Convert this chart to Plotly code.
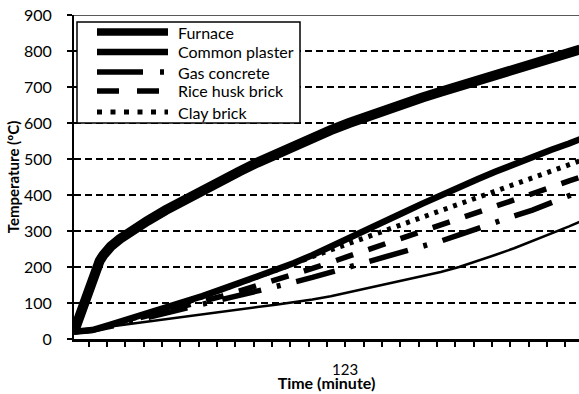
import plotly.graph_objects as go

# ---- data (time in minutes, temperature in degC) ----
furnace_time = [0, 1, 2, 3, 4, 5, 6, 7, 8, 9, 10, 12.5, 15, 20, 25, 30, 35, 40, 45, 50, 55, 60,
                65, 70, 75, 80, 85, 90, 95, 100, 105, 110, 115, 120, 125, 130, 135, 138]
furnace = [20, 50, 85, 118, 148, 175, 198, 217, 233, 246, 257, 278, 296, 328, 358, 386, 413,
           439, 465, 490, 514, 537, 559, 580, 600, 619, 637, 654, 671, 687, 703, 719, 735, 750,
           765, 780, 795, 804]

time = [0, 5, 10, 15, 20, 25, 30, 35, 40, 45, 50, 55, 60, 65, 70, 75, 80, 85, 90, 95, 100,
        105, 110, 115, 120, 125, 130, 135, 138]
common_plaster = [20, 25, 40, 55, 70, 85, 101, 119, 137, 155, 174, 192, 211, 233, 256, 279, 303,
                  327, 352, 376, 400, 422, 444, 465, 486, 506, 525, 543, 555]
gas_concrete = [20, 24, 35, 47, 59, 71, 83, 95, 107, 121, 133, 145, 158, 171, 185, 199, 213,
                228, 243, 256, 272, 289, 308, 326, 342, 358, 377, 397, 410]
rice_husk_brick = [20, 25, 38, 51, 64, 77, 90, 104, 118, 133, 148, 164, 180, 196, 213, 230, 247,
                   265, 282, 300, 317, 334, 352, 369, 387, 404, 421, 439, 449]
clay_brick = [20, 25, 39, 53, 68, 83, 99, 117, 135, 153, 172, 190, 209, 229, 247, 265, 283,
              301, 319, 337, 356, 374, 393, 411, 429, 447, 465, 483, 495]
unlabelled = [18, 28, 35, 42, 49, 56, 62, 70, 76, 82, 89, 95, 102, 110, 119, 130, 140, 152, 162,
              174, 186, 200, 216, 234, 252, 272, 291, 313, 326]

series_names = ["Furnace", "Common plaster", "Gas concrete", "Rice husk brick", "Clay brick"]
y_ticks = [0, 100, 200, 300, 400, 500, 600, 700, 800, 900]
x_title = "Time (minute)"
y_title = "Temperature (ºC)"
stray_label = "123"
stray_label_time = 74

FONT = "Lato, 'Open Sans', sans-serif"

styles = {
    "Furnace": dict(color="black", width=10),
    "Common plaster": dict(color="black", width=6.5),
    "Gas concrete": dict(color="black", width=5.5, dash="40px,16px,4px,16px"),
    "Rice husk brick": dict(color="black", width=5.5, dash="18px,16px"),
    "Clay brick": dict(color="black", width=5, dash="4px,6px"),
}
legend_styles = {
    "Furnace": dict(color="black", width=7.5),
    "Common plaster": dict(color="black", width=6.5),
    "Gas concrete": dict(color="black", width=5.5, dash="46px,17px,4px,30px"),
    "Rice husk brick": dict(color="black", width=5.5, dash="22px,18px"),
    "Clay brick": dict(color="black", width=5, dash="5px,8.5px"),
}

fig = go.Figure()
fig.add_trace(go.Scatter(x=time, y=unlabelled, mode="lines", showlegend=False,
                         line=dict(color="black", width=2.5)))
fig.add_trace(go.Scatter(x=time, y=gas_concrete, mode="lines", name=series_names[2],
                         showlegend=False, line=styles[series_names[2]]))
fig.add_trace(go.Scatter(x=time, y=rice_husk_brick, mode="lines", name=series_names[3],
                         showlegend=False, line=styles[series_names[3]]))
fig.add_trace(go.Scatter(x=time, y=clay_brick, mode="lines", name=series_names[4],
                         showlegend=False, line=styles[series_names[4]]))
fig.add_trace(go.Scatter(x=time, y=common_plaster, mode="lines", name=series_names[1],
                         showlegend=False, line=styles[series_names[1]]))
fig.add_trace(go.Scatter(x=furnace_time, y=furnace, mode="lines", name=series_names[0],
                         showlegend=False, line=styles[series_names[0]]))

W, H = 579, 394
ML, MR, MT, MB = 74, 0, 15, 55
PW, PH = W - ML - MR, H - MT - MB


def px_x(p):  # pixel -> paper x
    return (p - ML) / PW


def px_y(p):  # pixel -> paper y
    return 1 - (p - MT) / PH


fig.update_layout(
    width=W, height=H,
    margin=dict(l=ML, r=MR, t=MT, b=MB),
    paper_bgcolor="white", plot_bgcolor="white",
    font=dict(family=FONT, size=15, color="black"),
    showlegend=False,
)

fig.update_xaxes(
    range=[0, 137.7], showgrid=False, zeroline=False,
    showline=True, linecolor="black", linewidth=2.5,
    ticks="outside", ticklen=5, tickwidth=1.5, tickcolor="black",
    tick0=4, dtick=5, showticklabels=False, automargin=False,
    title=dict(text="<b>" + x_title + "</b>", standoff=33, font=dict(size=16)),
)
fig.update_yaxes(
    range=[0, 900], tickvals=y_ticks, showgrid=True, gridcolor="black",
    gridwidth=1.5, griddash="7px,4px", zeroline=False,
    showline=True, linecolor="black", linewidth=2,
    ticks="outside", ticklen=5, tickwidth=2, tickcolor="black",
    tickfont=dict(size=16), ticklabelstandoff=12, automargin=False,
    title=dict(text="<b>" + y_title + "</b>", standoff=1, font=dict(size=15)),
)
fig.add_shape(type="line", xref="paper", yref="y", x0=0, x1=1, y0=900, y1=900,
              line=dict(color="#222", width=1.5))

# ---- legend box drawn by hand (Excel-like) ----
box_l, box_r, box_t, box_b = 77, 300, 22, 123
fig.add_shape(type="rect", xref="paper", yref="paper",
              x0=px_x(box_l), x1=px_x(box_r), y0=px_y(box_b), y1=px_y(box_t),
              fillcolor="white", line=dict(color="black", width=1.5), layer="above")
row_y = [32, 52, 72, 91, 112]
sample_l, sample_r, text_l = 97, 168, 176
for name, ry in zip(series_names, row_y):
    fig.add_shape(type="line", xref="paper", yref="paper",
                  x0=px_x(sample_l), x1=px_x(sample_r), y0=px_y(ry), y1=px_y(ry),
                  line=legend_styles[name], layer="above")
    fig.add_annotation(x=px_x(text_l), y=px_y(ry), xref="paper", yref="paper",
                       xanchor="left", yanchor="middle", text=name, showarrow=False,
                       font=dict(size=16))

fig.add_annotation(x=stray_label_time, xref="x", y=0, yref="paper", yanchor="middle",
                   yshift=-30, text=stray_label, showarrow=False, font=dict(size=15))

fig.write_html("out.html", config={"displayModeBar": False},
               post_script="document.body.style.margin='0';")
